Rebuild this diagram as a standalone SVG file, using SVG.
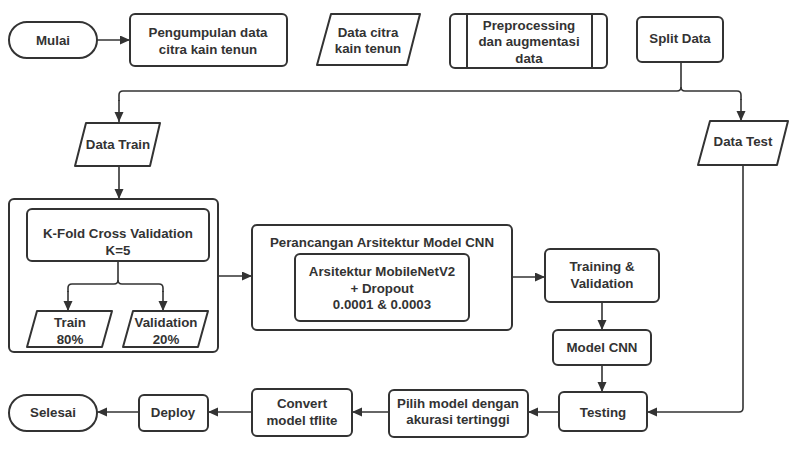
<svg xmlns="http://www.w3.org/2000/svg" width="790" height="450" viewBox="0 0 790 450">
<defs>
<marker id="ah" markerUnits="userSpaceOnUse" markerWidth="11" markerHeight="10" refX="10" refY="4.5" orient="auto">
<path d="M0,0 L10,4.5 L0,9 z" fill="#333"/>
</marker>
<style>
.s{fill:#fff;stroke:#333;stroke-width:2;stroke-linejoin:round}
.c{fill:none;stroke:#333;stroke-width:1.6;marker-end:url(#ah)}
.n{fill:none;stroke:#333;stroke-width:1.6}
text{font-family:"Liberation Sans",Arial,sans-serif;font-weight:bold;font-size:13.3px;fill:#333;text-anchor:middle;dominant-baseline:central}
</style>
</defs>
<rect width="790" height="450" fill="#fff"/>
<g id="kfold-group"><rect class="s" x="9" y="199" width="209" height="153" rx="5"/></g>
<g id="perancangan"><rect class="s" x="252" y="225" width="260" height="105" rx="5"/><text x="382" y="242">Perancangan Arsitektur Model CNN</text></g>
<g id="connectors">
<path class="c" d="M97 40 H130"/>
<path class="n" d="M681 62 V87 Q681 91 677 91 H123 Q119 91 119 95 V101"/>
<path class="c" d="M119 100 V122"/>
<path class="n" d="M681 87 Q681 91 685 91 H737 Q741 91 741 95 V100"/>
<path class="c" d="M741 99 V121"/>
<path class="c" d="M119 166 V199"/>
<path class="n" d="M118 261 V280 Q118 284 114 284 H72 Q68 284 68 288 V292"/>
<path class="c" d="M68 291 V311"/>
<path class="n" d="M118 280 Q118 284 122 284 H159 Q163 284 163 288 V292"/>
<path class="c" d="M163 291 V311"/>
<path class="c" d="M218 276 H252"/>
<path class="c" d="M512 277 H545"/>
<path class="c" d="M602 302 V330"/>
<path class="c" d="M602 365 V392"/>
<path class="c" d="M743 165 V408 Q743 412 739 412 H647"/>
<path class="c" d="M559 412 H528"/>
<path class="c" d="M389 412 H352"/>
<path class="c" d="M252 412 H208"/>
<path class="c" d="M139 412 H97"/>
</g>
<g id="mulai"><rect class="s" x="9" y="22" width="88" height="36" rx="18"/><text x="53" y="40">Mulai</text></g>
<g id="pengumpulan"><rect class="s" x="130" y="14" width="157" height="52" rx="5"/><text x="208" y="32">Pengumpulan data</text><text x="208" y="49">citra kain tenun</text></g>
<g id="datacitra"><polygon class="s" points="331,14 420,14 407,65 317,65"/><text x="368" y="32">Data citra</text><text x="368" y="48">kain tenun</text></g>
<g id="preprocessing"><rect class="s" x="450" y="14" width="157" height="54" rx="5"/><line class="s" x1="467" y1="14" x2="467" y2="68"/><line class="s" x1="592" y1="14" x2="592" y2="68"/><text x="529" y="25">Preprocessing</text><text x="529" y="41">dan augmentasi</text><text x="529" y="58">data</text></g>
<g id="split"><rect class="s" x="637" y="17" width="86" height="45" rx="5"/><text x="680" y="38">Split Data</text></g>
<g id="datatrain"><polygon class="s" points="86,123 160,123 150,166 75,166"/><text x="118" y="144">Data Train</text></g>
<g id="datatest"><polygon class="s" points="710,121 788,121 777,165 698,165"/><text x="743" y="141">Data Test</text></g>
<g id="kfold"><rect class="s" x="27" y="209" width="182" height="52" rx="5"/><text x="118" y="233">K-Fold Cross Validation</text><text x="118" y="250">K=5</text></g>
<g id="train"><polygon class="s" points="37,311 112,311 102,347 27,347"/><text x="70" y="322">Train</text><text x="70" y="339">80%</text></g>
<g id="validation"><polygon class="s" points="133,311 208,311 198,347 123,347"/><text x="166" y="322">Validation</text><text x="166" y="339">20%</text></g>
<g id="mobilenet"><rect class="s" x="295" y="254" width="174" height="67" rx="5"/><text x="382" y="271">Arsitektur MobileNetV2</text><text x="382" y="288">+ Dropout</text><text x="382" y="304">0.0001 &amp; 0.0003</text></g>
<g id="training"><rect class="s" x="545" y="249" width="114" height="53" rx="5"/><text x="602" y="266">Training &amp;</text><text x="602" y="283">Validation</text></g>
<g id="modelcnn"><rect class="s" x="553" y="330" width="98" height="35" rx="5"/><text x="602" y="347">Model CNN</text></g>
<g id="testing"><rect class="s" x="559" y="392" width="88" height="39" rx="5"/><text x="603" y="412">Testing</text></g>
<g id="pilih"><rect class="s" x="389" y="390" width="139" height="47" rx="5"/><text x="458" y="403">Pilih model dengan</text><text x="458" y="419">akurasi tertinggi</text></g>
<g id="convert"><rect class="s" x="252" y="389" width="100" height="47" rx="5"/><text x="302" y="403">Convert</text><text x="302" y="420">model tflite</text></g>
<g id="deploy"><rect class="s" x="139" y="395" width="69" height="36" rx="5"/><text x="173" y="412">Deploy</text></g>
<g id="selesai"><rect class="s" x="9" y="395" width="88" height="36" rx="18"/><text x="53" y="412">Selesai</text></g>
</svg>
